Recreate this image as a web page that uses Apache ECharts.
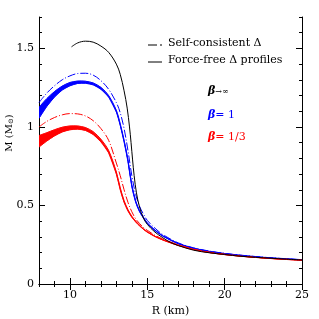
<!DOCTYPE html>
<html><head><meta charset="utf-8">
<script src="https://cdn.jsdelivr.net/npm/echarts@6/dist/echarts.min.js"></script>
<style>html,body{margin:0;padding:0;background:#fff}#c{width:319px;height:319px}</style>
</head><body><div id="c"></div>
<script>
// ---- data ----
const R_BAND = [8, 8.5, 9, 9.5, 10, 10.5, 11, 11.5, 12, 12.5, 13, 13.25, 13.5, 13.75, 14, 14.25, 14.5, 14.75, 15, 15.5, 16, 17, 18, 19, 20, 21, 22, 23, 24, 25];
const blueFFLow  = [1.055, 1.13, 1.19, 1.235, 1.262, 1.277, 1.278, 1.268, 1.24, 1.19, 1.095, 1.01, 0.905, 0.78, 0.62, 0.52, 0.46, 0.42, 0.385, 0.34, 0.305, 0.256, 0.226, 0.206, 0.192, 0.181, 0.172, 0.165, 0.159, 0.153];
const blueFFHigh = [1.125, 1.18, 1.225, 1.26, 1.283, 1.292, 1.291, 1.28, 1.252, 1.2, 1.105, 1.02, 0.915, 0.79, 0.63, 0.528, 0.466, 0.425, 0.389, 0.343, 0.307, 0.258, 0.228, 0.208, 0.194, 0.183, 0.174, 0.166, 0.16, 0.154];
const blueSC     = [1.155, 1.215, 1.262, 1.3, 1.325, 1.34, 1.342, 1.33, 1.295, 1.24, 1.155, 1.09, 0.99, 0.85, 0.69, 0.57, 0.495, 0.445, 0.405, 0.355, 0.315, 0.262, 0.23, 0.21, 0.195, 0.184, 0.175, 0.167, 0.161, 0.155];
const redFFLow   = [0.872, 0.91, 0.943, 0.968, 0.982, 0.986, 0.978, 0.952, 0.905, 0.835, 0.70, 0.60, 0.52, 0.465, 0.425, 0.395, 0.37, 0.348, 0.33, 0.302, 0.28, 0.245, 0.218, 0.2, 0.187, 0.177, 0.169, 0.162, 0.156, 0.151];
const redFFHigh  = [0.945, 0.963, 0.982, 0.998, 1.006, 1.006, 0.996, 0.97, 0.922, 0.85, 0.713, 0.612, 0.53, 0.473, 0.431, 0.4, 0.374, 0.351, 0.333, 0.304, 0.282, 0.247, 0.22, 0.201, 0.188, 0.178, 0.17, 0.163, 0.157, 0.152];
const redSC      = [1.0, 1.035, 1.06, 1.077, 1.085, 1.083, 1.07, 1.04, 0.99, 0.915, 0.77, 0.69, 0.60, 0.52, 0.46, 0.415, 0.385, 0.36, 0.342, 0.31, 0.287, 0.25, 0.222, 0.203, 0.19, 0.179, 0.17, 0.163, 0.157, 0.152];
const R_BLACK = [10.1, 10.5, 11, 11.5, 12, 12.5, 13, 13.25, 13.5, 13.7, 13.85, 13.95, 14.05, 14.15, 14.3, 14.5, 14.75, 15, 15.5, 16, 16.5, 17, 18, 19, 20, 21, 22, 23, 24, 25];
const blackFF = [1.51, 1.535, 1.546, 1.54, 1.515, 1.475, 1.40, 1.335, 1.23, 1.12, 1.0, 0.9, 0.79, 0.69, 0.58, 0.49, 0.42, 0.38, 0.33, 0.295, 0.265, 0.245, 0.215, 0.199, 0.188, 0.177, 0.17, 0.164, 0.158, 0.153];
const xTicks = [10, 15, 20, 25];
const yTicks = [0, 0.5, 1, 1.5];
const xName = 'R (km)';
const yName = 'M (M{s|\u2299})';
const legendLabels = ['Self-consistent \u0394', 'Force-free \u0394 profiles'];
const betaLabels = ['\u2192\u221e', '= 1', '= 1/3'];

// ---- build ----
const pairs = (xs, ys) => xs.map((x, i) => [x, ys[i]]);
const BLUE = '#0000ff', RED = '#ff0000';
const font = 'DejaVu Serif';
const DASH = [8, 2, 1, 2];

function bandSeries(lo, hi, color) {
  return {
    type:'custom', data:pairs(R_BAND, lo), z:3, clip:true,
    renderItem(params, api) {
      if (params.dataIndex !== 0) return null;
      const top = R_BAND.map((x, i) => api.coord([x, hi[i]]));
      const bot = R_BAND.map((x, i) => api.coord([x, lo[i]]));
      return {type:'group', children:[
        {type:'polygon', shape:{points: top.concat(bot.slice().reverse())},
         style:{fill:color, stroke:color, lineWidth:0.5}},
        {type:'polyline', shape:{points: top, smooth:0.35}, style:{stroke:color, lineWidth:1, fill:null}},
        {type:'polyline', shape:{points: bot, smooth:0.35}, style:{stroke:color, lineWidth:1, fill:null}}
      ]};
    }
  };
}

const majorX = (pos, labels) => ({type:'value', position:pos, min:8, max:25, gridIndex:0,
  axisLine:{show:true, lineStyle:{color:'#000', width:1}},
  axisTick:{show:true, inside:true, length:6, customValues:xTicks, lineStyle:{color:'#000'}},
  axisLabel:{show:labels, customValues:xTicks, color:'#000', fontFamily:font, fontSize:11, margin:6},
  splitLine:{show:false},
  name: labels ? xName : '', nameLocation:'middle', nameGap:16,
  nameTextStyle:{color:'#000', fontFamily:font, fontSize:11}});
const minorX = (pos) => ({type:'value', position:pos, min:8, max:25, interval:1, gridIndex:0,
  axisLine:{show:false}, axisTick:{show:true, inside:true, length:3, lineStyle:{color:'#000'}},
  axisLabel:{show:false}, splitLine:{show:false}});
const majorY = (pos, labels) => ({type:'value', position:pos, min:0, max:1.7, gridIndex:0,
  axisLine:{show:true, lineStyle:{color:'#000', width:1}},
  axisTick:{show:true, inside:true, length:6, customValues:yTicks, lineStyle:{color:'#000'}},
  axisLabel:{show:labels, customValues:yTicks, color:'#000', fontFamily:font, fontSize:11, margin:5},
  splitLine:{show:false}});
const minorY = (pos) => ({type:'value', position:pos, min:0, max:1.7, interval:0.1, gridIndex:0,
  axisLine:{show:false}, axisTick:{show:true, inside:true, length:3, lineStyle:{color:'#000'}},
  axisLabel:{show:false}, splitLine:{show:false}});

const series = [
  bandSeries(blueFFLow, blueFFHigh, BLUE),
  bandSeries(redFFLow, redFFHigh, RED),
  {type:'line', data:pairs(R_BAND, blueSC), smooth:0.35, symbol:'none', lineStyle:{color:BLUE, width:1, type:DASH}, z:4},
  {type:'line', data:pairs(R_BAND, redSC), smooth:0.35, symbol:'none', lineStyle:{color:RED, width:1, type:DASH}, z:4},
  {type:'line', data:pairs(R_BLACK, blackFF), smooth:0.35, symbol:'none', lineStyle:{color:'#000', width:1}, z:5}
];

const tStyle = (x, y, text, extra) => ({type:'text', left:x, top:y,
  style:Object.assign({text, fill:'#000', font:'11px "'+font+'"'}, extra || {})});

const option = {
  animation:false,
  grid:{left:39, right:17, top:17, bottom:35, containLabel:false, outerBoundsMode:'none'},
  xAxis:[majorX('bottom', true), minorX('bottom'), majorX('top', false), minorX('top')],
  yAxis:[majorY('left', true), minorY('left'), majorY('right', false), minorY('right')],
  series,
  graphic:[
    {type:'text', x:9, y:133, rotation:Math.PI/2, style:{text:yName, fill:'#000',
      font:'10px "'+font+'"', align:'center', verticalAlign:'middle',
      rich:{s:{font:'7px "'+font+'"', fill:'#000', padding:[5,0,0,0]}}}},
    {type:'line', shape:{x1:148, y1:45, x2:157, y2:45}, style:{stroke:'#000', lineWidth:1}},
    {type:'line', shape:{x1:160, y1:45, x2:162, y2:45}, style:{stroke:'#000', lineWidth:1}},
    {type:'line', shape:{x1:148, y1:62, x2:162, y2:62}, style:{stroke:'#000', lineWidth:1}},
    tStyle(168, 38, legendLabels[0]),
    tStyle(168, 55, legendLabels[1]),
    {type:'text', left:208, top:86, style:{text:'{b|\u03b2}{n|'+betaLabels[0]+'}', rich:{
      b:{fill:'#000', font:'italic bold 11px "'+font+'"'}, n:{fill:'#000', font:'8px "'+font+'"'}}}},
    {type:'text', left:208, top:110, style:{text:'{b|\u03b2}{n|'+betaLabels[1]+'}', rich:{
      b:{fill:BLUE, font:'italic bold 11px "'+font+'"'}, n:{fill:BLUE, font:'11px "'+font+'"'}}}},
    {type:'text', left:208, top:132, style:{text:'{b|\u03b2}{n|'+betaLabels[2]+'}', rich:{
      b:{fill:RED, font:'italic bold 11px "'+font+'"'}, n:{fill:RED, font:'11px "'+font+'"'}}}}
  ]
};
const chart = echarts.init(document.getElementById('c'), null, {renderer:'canvas'});
chart.setOption(option);
</script></body></html>
